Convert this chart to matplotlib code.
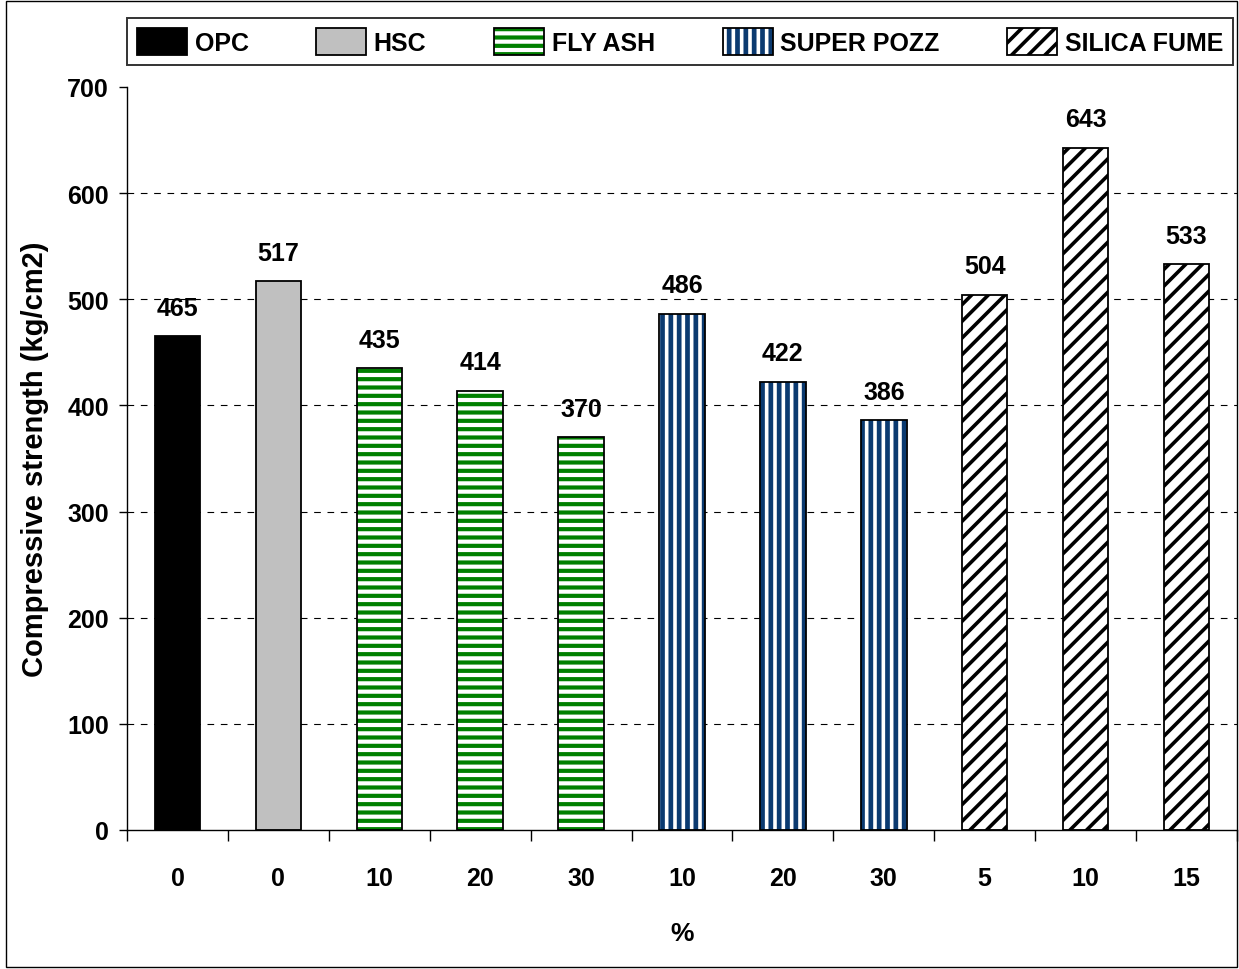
import numpy as np
import matplotlib
matplotlib.use("Agg")
import matplotlib.pyplot as plt
from matplotlib.patches import Patch, Rectangle

plt.rcParams['font.family'] = ['Liberation Sans', 'DejaVu Sans']
plt.rcParams['font.weight'] = 'bold'

# mix data: group, replacement %, compressive strength
groups = ['OPC', 'HSC', 'FLY ASH', 'SUPER POZZ', 'SILICA FUME']
pct_labels = ['0', '0', '10', '20', '30', '10', '20', '30', '5', '10', '15']
bar_group = ['OPC', 'HSC', 'FLY ASH', 'FLY ASH', 'FLY ASH',
             'SUPER POZZ', 'SUPER POZZ', 'SUPER POZZ',
             'SILICA FUME', 'SILICA FUME', 'SILICA FUME']
strength = [465, 517, 435, 414, 370, 486, 422, 386, 504, 643, 533]

# fill, hatch colour, hatch pattern, hatch width per group
styles = {
    'OPC': ('black', None, None, 0),
    'HSC': ('#c0c0c0', None, None, 0),
    'FLY ASH': ('white', '#008000', '--', 3.0),
    'SUPER POZZ': ('white', '#0b3a70', '||', 3.4),
    'SILICA FUME': ('white', 'black', '//', 2.6),
}


def style_patch(p, group):
    face, hcol, hatch, hlw = styles[group]
    p.set_facecolor(face)
    p.set_edgecolor(hcol if hcol else face)
    p.set_linewidth(0)
    if hatch:
        p.set_hatch(hatch)
        p.set_hatch_linewidth(hlw)
    return p


class SwatchHandler:
    """Legend box: hatched fill with a black outline on top."""

    def legend_artist(self, legend, orig_handle, fontsize, handlebox):
        x0, y0 = -handlebox.xdescent, -handlebox.ydescent
        w, h = handlebox.width, handlebox.height
        fill = style_patch(Rectangle((x0, y0), w, h), orig_handle.get_label())
        edge = Rectangle((x0, y0), w, h, fill=False, edgecolor='black', linewidth=1.3)
        for art in (fill, edge):
            art.set_transform(handlebox.get_transform())
            handlebox.add_artist(art)
        return fill


fig = plt.figure(figsize=(12.39, 9.70), dpi=100)
ax = fig.add_axes([127 / 1239, 1 - 831 / 970, 1110 / 1239, 743 / 970])

x = np.arange(len(strength))
width = 0.45

for xi, val, grp in zip(x, strength, bar_group):
    b = ax.bar(xi, val, width=width, zorder=2)
    style_patch(b[0], grp)
    ax.bar(xi, val, width=width, fill=False, edgecolor='black', linewidth=1.3, zorder=3)
    ax.annotate(str(val), (xi, val), xytext=(0, 12), textcoords='offset points',
                ha='center', va='bottom', fontsize=18, fontweight='bold')

# dashed gridlines between 0 and 700
for yv in range(100, 700, 100):
    ax.axhline(yv, color='black', linewidth=0.8, linestyle=(0, (6, 6)), zorder=1)

ax.set_xlim(-0.5, len(strength) - 0.5)
ax.set_ylim(0, 700)
ax.set_yticks(range(0, 701, 100))
ax.set_xticks(x)
ax.set_xticklabels(pct_labels)
ax.set_xticks(np.arange(-0.5, len(strength), 1), minor=True)
ax.tick_params(axis='x', which='major', length=0, pad=26, labelsize=18)
ax.tick_params(axis='x', which='minor', length=8, width=1, direction='out')
ax.tick_params(axis='y', length=6, width=1, direction='out', labelsize=18, pad=7)
for lbl in ax.get_xticklabels() + ax.get_yticklabels():
    lbl.set_fontweight('bold')

for side in ['top', 'right']:
    ax.spines[side].set_visible(False)
for side in ['left', 'bottom']:
    ax.spines[side].set_linewidth(1)

ax.set_ylabel('Compressive strength (kg/cm2)', fontsize=21, fontweight='bold', labelpad=13)
ax.set_xlabel('%', fontsize=19, fontweight='bold', labelpad=22)

handles = [Patch(label=grp) for grp in groups]
leg = fig.legend(handles, groups, ncol=5, mode='expand',
                 bbox_to_anchor=(127 / 1239, 1 - 66 / 970, 1106 / 1239, 53 / 970),
                 loc='lower left', borderaxespad=0,
                 handler_map={Patch: SwatchHandler()},
                 frameon=True, fancybox=False, edgecolor='black', borderpad=0.4,
                 handlelength=2.0, handleheight=1.3, handletextpad=0.3,
                 prop={'weight': 'bold', 'size': 18})
leg.get_frame().set_linewidth(1.4)

# outer chart border
fig.add_artist(Rectangle((6 / 1239, 2 / 970), 1231 / 1239, 966 / 970, transform=fig.transFigure,
                         fill=False, edgecolor='black', linewidth=1))

fig.savefig('out.png', dpi=100)
